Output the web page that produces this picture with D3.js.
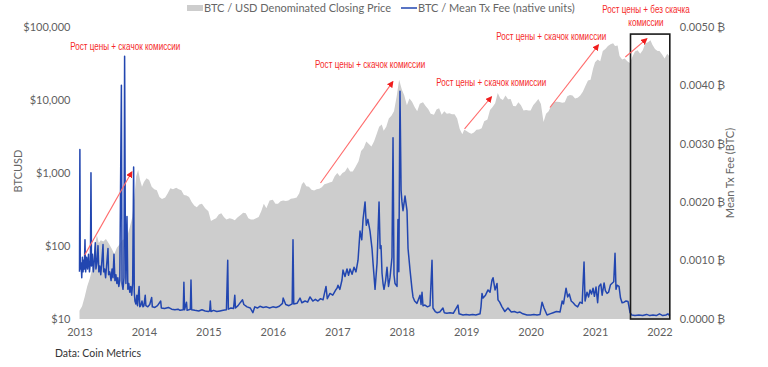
<!DOCTYPE html>
<html>
<head>
<meta charset="utf-8">
<script src="https://cdn.jsdelivr.net/npm/d3@7/dist/d3.min.js"></script>
<style>
  html, body { margin: 0; padding: 0; background: #fff; }
  svg { display: block; }
  text { font-family: Lato, "Open Sans", sans-serif; }
</style>
</head>
<body>
<svg id="chart" width="768" height="367"></svg>
<script>
// ---------- DATA ----------
const yearTicks = [2013, 2014, 2015, 2016, 2017, 2018, 2019, 2020, 2021, 2022];
const priceTicks = [10, 100, 1000, 10000, 100000];
const feeTicks = [0, 0.001, 0.002, 0.003, 0.004, 0.005];

// BTC / USD closing price: [decimal year, USD]
const priceSeries = [
  [2013.00,13],[2013.04,15],[2013.08,20],[2013.12,28],[2013.16,36],[2013.20,50],[2013.23,95],[2013.27,140],
  [2013.30,110],[2013.33,120],[2013.37,115],[2013.41,125],[2013.45,110],[2013.50,92],[2013.54,78],[2013.58,95],
  [2013.62,105],[2013.66,120],[2013.70,125],[2013.74,135],[2013.78,180],[2013.82,250],[2013.85,450],[2013.88,900],
  [2013.91,1100],[2013.94,800],[2013.97,650],[2014.00,750],[2014.04,850],[2014.08,800],[2014.12,650],[2014.16,600],
  [2014.20,580],[2014.24,470],[2014.28,440],[2014.33,460],[2014.37,530],[2014.41,620],[2014.45,600],[2014.50,630],
  [2014.54,600],[2014.58,580],[2014.62,500],[2014.66,490],[2014.70,470],[2014.74,400],[2014.78,360],[2014.82,340],
  [2014.86,370],[2014.90,380],[2014.95,330],[2015.00,300],[2015.04,220],[2015.08,230],[2015.12,240],[2015.16,270],
  [2015.20,280],[2015.24,250],[2015.28,230],[2015.33,240],[2015.37,235],[2015.41,225],[2015.45,245],[2015.50,265],
  [2015.54,285],[2015.58,280],[2015.62,240],[2015.66,230],[2015.70,230],[2015.74,240],[2015.78,250],[2015.82,300],
  [2015.86,380],[2015.90,330],[2015.95,420],[2016.00,430],[2016.04,380],[2016.08,380],[2016.12,410],[2016.16,420],
  [2016.20,415],[2016.24,420],[2016.28,445],[2016.33,450],[2016.37,460],[2016.41,530],[2016.45,700],[2016.48,750],
  [2016.52,660],[2016.56,650],[2016.60,590],[2016.64,575],[2016.68,600],[2016.72,610],[2016.76,640],[2016.80,700],
  [2016.84,720],[2016.88,740],[2016.92,760],[2016.96,900],[2017.00,1000],[2017.04,900],[2017.08,1000],[2017.12,1050],
  [2017.16,1200],[2017.20,1050],[2017.24,1050],[2017.28,1200],[2017.33,1450],[2017.37,2000],[2017.41,2200],[2017.45,2700],
  [2017.49,2500],[2017.53,2300],[2017.57,2700],[2017.61,3400],[2017.65,4300],[2017.69,4600],[2017.72,3800],[2017.76,4300],
  [2017.80,5600],[2017.84,6100],[2017.88,7000],[2017.92,11000],[2017.96,19000],[2018.00,14000],[2018.04,11500],[2018.08,8500],
  [2018.12,10500],[2018.16,9500],[2018.20,8000],[2018.24,7000],[2018.28,8900],[2018.33,9300],[2018.37,8300],[2018.41,7500],
  [2018.45,6500],[2018.50,6300],[2018.54,7400],[2018.58,7700],[2018.62,6300],[2018.66,7000],[2018.70,6500],[2018.74,6600],
  [2018.78,6400],[2018.82,6400],[2018.86,5600],[2018.90,4000],[2018.94,3400],[2018.97,3900],[2019.00,3800],[2019.04,3600],
  [2019.08,3450],[2019.12,3600],[2019.16,3900],[2019.20,3950],[2019.24,4100],[2019.28,5100],[2019.33,5400],[2019.37,7300],
  [2019.41,8000],[2019.45,9000],[2019.49,12500],[2019.53,10500],[2019.57,10000],[2019.61,11500],[2019.65,10200],[2019.69,10300],
  [2019.73,8300],[2019.77,8200],[2019.81,9300],[2019.85,8500],[2019.89,7200],[2019.93,7300],[2019.97,7200],[2020.00,7200],
  [2020.04,8500],[2020.08,9300],[2020.12,10300],[2020.16,8800],[2020.20,5000],[2020.24,6500],[2020.28,7000],[2020.33,8800],
  [2020.37,9500],[2020.41,9500],[2020.45,9400],[2020.49,9200],[2020.53,9300],[2020.57,11300],[2020.61,11700],[2020.65,11500],
  [2020.69,10500],[2020.73,10700],[2020.77,11500],[2020.81,13000],[2020.85,15500],[2020.89,18500],[2020.93,19000],[2020.97,27000],
  [2021.00,33000],[2021.04,36000],[2021.08,34000],[2021.12,47000],[2021.16,50000],[2021.20,55000],[2021.24,58000],[2021.28,60000],
  [2021.31,55000],[2021.35,56000],[2021.38,40000],[2021.42,36000],[2021.46,37000],[2021.50,34000],[2021.54,32000],[2021.58,39000],
  [2021.62,46000],[2021.66,48000],[2021.70,43000],[2021.74,48000],[2021.78,60000],[2021.82,62000],[2021.86,66000],[2021.89,57000],
  [2021.93,50000],[2021.97,47000],[2022.00,47000],[2022.04,42000],[2022.08,37000],[2022.12,43000],[2022.16,39000]
];

// BTC / mean transaction fee (BTC): [decimal year, fee]
const feeSeries = [
  [2013.000,0.00080],[2013.006,0.00290],[2013.012,0.00085],[2013.025,0.00095],[2013.035,0.00070],[2013.045,0.00105],
  [2013.055,0.00080],[2013.065,0.00100],[2013.075,0.00085],[2013.085,0.00135],[2013.095,0.00080],[2013.110,0.00105],
  [2013.125,0.00085],[2013.140,0.00110],[2013.155,0.00080],[2013.170,0.00100],[2013.178,0.00250],[2013.186,0.00090],
  [2013.200,0.00110],[2013.215,0.00080],[2013.230,0.00100],[2013.245,0.00130],[2013.255,0.00085],[2013.270,0.00095],
  [2013.287,0.00125],[2013.300,0.00080],[2013.315,0.00090],[2013.330,0.00075],[2013.345,0.00095],[2013.365,0.00127],
  [2013.375,0.00080],[2013.390,0.00085],[2013.405,0.00070],[2013.420,0.00090],[2013.442,0.00120],[2013.452,0.00075],
  [2013.470,0.00080],[2013.490,0.00065],[2013.505,0.00085],[2013.520,0.00070],[2013.535,0.00110],[2013.550,0.00065],
  [2013.565,0.00075],[2013.580,0.00060],[2013.595,0.00070],[2013.610,0.00055],[2013.625,0.00065],[2013.650,0.00400],
  [2013.660,0.00060],[2013.675,0.00050],[2013.690,0.00070],[2013.700,0.00450],[2013.710,0.00180],[2013.720,0.00060],
  [2013.737,0.00175],[2013.750,0.00050],[2013.765,0.00060],[2013.780,0.00045],[2013.795,0.00055],[2013.810,0.00040],
  [2013.825,0.00060],[2013.840,0.00260],[2013.850,0.00045],[2013.860,0.00030],[2013.875,0.00025],[2013.890,0.00040],
  [2013.900,0.00022],[2013.925,0.00055],[2013.935,0.00020],[2013.950,0.00022],[2013.970,0.00030],[2013.985,0.00020],
  [2014.000,0.00022],[2014.020,0.00040],[2014.030,0.00022],[2014.060,0.00020],[2014.090,0.00024],[2014.120,0.00036],
  [2014.130,0.00020],[2014.170,0.00019],[2014.210,0.00022],[2014.260,0.00030],[2014.270,0.00018],[2014.320,0.00017],
  [2014.380,0.00019],[2014.430,0.00016],[2014.480,0.00015],[2014.530,0.00016],[2014.560,0.00014],[2014.610,0.00015],
  [2014.620,0.00062],[2014.630,0.00015],[2014.660,0.00028],[2014.670,0.00014],[2014.720,0.00016],[2014.730,0.00066],
  [2014.740,0.00015],[2014.790,0.00014],[2014.850,0.00013],[2014.900,0.00015],[2014.950,0.00013],
  [2015.000,0.00012],[2015.020,0.00013],[2015.030,0.00030],[2015.040,0.00012],[2015.080,0.00014],[2015.130,0.00012],
  [2015.180,0.00013],[2015.230,0.00014],[2015.280,0.00015],[2015.300,0.00100],[2015.310,0.00016],[2015.350,0.00018],
  [2015.390,0.00017],[2015.410,0.00040],[2015.420,0.00018],[2015.460,0.00022],[2015.500,0.00028],[2015.530,0.00032],
  [2015.550,0.00024],[2015.600,0.00020],[2015.650,0.00018],[2015.690,0.00010],[2015.720,0.00020],[2015.760,0.00018],
  [2015.800,0.00021],[2015.850,0.00019],[2015.900,0.00020],[2015.950,0.00018],
  [2016.000,0.00020],[2016.050,0.00019],[2016.100,0.00021],[2016.150,0.00026],[2016.160,0.00035],[2016.200,0.00024],
  [2016.250,0.00022],[2016.300,0.00025],[2016.313,0.00135],[2016.325,0.00025],[2016.375,0.00026],[2016.422,0.00035],
  [2016.450,0.00027],[2016.500,0.00030],[2016.540,0.00028],[2016.577,0.00037],[2016.620,0.00030],[2016.660,0.00033],
  [2016.700,0.00030],[2016.740,0.00034],[2016.779,0.00032],[2016.825,0.00055],[2016.845,0.00034],[2016.887,0.00043],
  [2016.930,0.00040],[2016.970,0.00048],[2016.996,0.00052],[2017.011,0.00057],[2017.040,0.00050],[2017.073,0.00066],
  [2017.089,0.00083],[2017.120,0.00072],[2017.151,0.00085],[2017.175,0.00074],[2017.198,0.00085],[2017.230,0.00076],
  [2017.260,0.00088],[2017.290,0.00080],[2017.322,0.00100],[2017.353,0.00150],[2017.380,0.00135],[2017.400,0.00170],
  [2017.431,0.00200],[2017.450,0.00160],[2017.475,0.00170],[2017.508,0.00150],[2017.539,0.00120],[2017.555,0.00095],
  [2017.586,0.00050],[2017.617,0.00095],[2017.648,0.00200],[2017.665,0.00120],[2017.679,0.00125],[2017.694,0.00078],
  [2017.710,0.00060],[2017.725,0.00050],[2017.750,0.00065],[2017.772,0.00088],[2017.795,0.00055],[2017.818,0.00070],
  [2017.849,0.00105],[2017.865,0.00310],[2017.880,0.00075],[2017.896,0.00060],[2017.927,0.00055],[2017.942,0.00170],
  [2017.955,0.00080],[2017.973,0.00390],[2017.990,0.00220],[2018.004,0.00200],[2018.020,0.00185],[2018.051,0.00210],
  [2018.082,0.00185],[2018.098,0.00120],[2018.129,0.00083],[2018.160,0.00050],[2018.175,0.00037],[2018.200,0.00030],
  [2018.237,0.00026],[2018.284,0.00040],[2018.300,0.00024],[2018.315,0.00045],[2018.330,0.00022],[2018.361,0.00023],
  [2018.400,0.00020],[2018.439,0.00022],[2018.470,0.00100],[2018.485,0.00018],[2018.520,0.00012],[2018.547,0.00010],
  [2018.590,0.00011],[2018.640,0.00018],[2018.660,0.00010],[2018.700,0.00009],[2018.749,0.00010],[2018.800,0.00009],
  [2018.873,0.00023],[2018.890,0.00008],[2018.951,0.00006],[2019.000,0.00007],[2019.050,0.00006],[2019.100,0.00007],
  [2019.150,0.00006],[2019.215,0.00008],[2019.230,0.00020],[2019.246,0.00043],[2019.262,0.00035],[2019.300,0.00040],
  [2019.339,0.00049],[2019.370,0.00045],[2019.401,0.00066],[2019.417,0.00070],[2019.448,0.00049],[2019.479,0.00060],
  [2019.494,0.00032],[2019.520,0.00028],[2019.556,0.00020],[2019.600,0.00012],[2019.649,0.00018],[2019.700,0.00011],
  [2019.750,0.00012],[2019.789,0.00010],[2019.835,0.00011],[2019.880,0.00008],[2019.944,0.00006],[2020.000,0.00006],
  [2020.050,0.00007],[2020.100,0.00006],[2020.146,0.00007],[2020.178,0.00028],[2020.208,0.00018],[2020.255,0.00006],
  [2020.300,0.00008],[2020.350,0.00010],[2020.400,0.00012],[2020.456,0.00011],[2020.490,0.00030],[2020.510,0.00025],
  [2020.550,0.00052],[2020.575,0.00037],[2020.600,0.00042],[2020.630,0.00030],[2020.660,0.00027],[2020.690,0.00023],
  [2020.730,0.00020],[2020.767,0.00028],[2020.800,0.00026],[2020.829,0.00097],[2020.845,0.00030],[2020.875,0.00045],
  [2020.900,0.00037],[2020.922,0.00049],[2020.945,0.00042],[2020.969,0.00052],[2020.990,0.00038],[2021.015,0.00054],
  [2021.040,0.00027],[2021.060,0.00055],[2021.090,0.00059],[2021.110,0.00040],[2021.140,0.00061],[2021.160,0.00048],
  [2021.186,0.00043],[2021.210,0.00045],[2021.240,0.00058],[2021.290,0.00063],[2021.310,0.00112],[2021.325,0.00050],
  [2021.341,0.00057],[2021.372,0.00055],[2021.395,0.00035],[2021.419,0.00027],[2021.450,0.00028],[2021.480,0.00030],
  [2021.512,0.00029],[2021.543,0.00010],[2021.570,0.00006],[2021.620,0.00005],[2021.680,0.00006],[2021.740,0.00005],
  [2021.800,0.00007],[2021.850,0.00005],[2021.900,0.00006],[2021.950,0.00005],[2022.000,0.00008],[2022.050,0.00005],
  [2022.100,0.00006],[2022.130,0.00008],[2022.160,0.00005]
];

const seriesNames = ["BTC / USD Denominated Closing Price", "BTC / Mean Tx Fee (native units)"];
const highlightPeriod = [2021.55, 2022.16]; // boxed period (years)
const highlightTop = 80000;                 // boxed period top (USD)

// annotations: label lines, text anchor [year, price], arrow from [year, price] to [year, price]
const annotations = [
  { lines: ["Рост цены + скачок комиссии"], at: [2013.71, 49000], from: [2013.08, 75], to: [2013.81, 1030] },
  { lines: ["Рост цены + скачок комиссии"], at: [2017.51, 27400], from: [2016.74, 730], to: [2017.86, 17700] },
  { lines: ["Рост цены + скачок комиссии"], at: [2019.39, 15600], from: [2018.975, 4010], to: [2019.39, 11000] },
  { lines: ["Рост цены + скачок комиссии"], at: [2020.32, 66400], from: [2020.30, 7900], to: [2021.05, 56600] },
  { lines: ["Рост цены + без скачка", "комиссии"], at: [2021.79, 155000], from: [2021.47, 38800], to: [2021.80, 68600] }
];

// ---------- CHART ----------
const svg = d3.select("#chart");
const x = d3.scaleLinear().domain([2013, 2022]).range([79.5, 659.5]);
const yP = d3.scaleLog().domain([10, 100000]).range([319, 27]);
const yF = d3.scaleLinear().domain([0, 0.005]).range([318.5, 27]);

const axisColor = "#5f5f5f";

// price area
svg.append("path")
  .datum(priceSeries)
  .attr("fill", "#cdcdcd")
  .attr("d", d3.area().x(d => x(d[0])).y0(yP(10)).y1(d => yP(d[1])));

// fee line
svg.append("path")
  .datum(feeSeries)
  .attr("fill", "none")
  .attr("stroke", "#2246b0")
  .attr("stroke-width", 1.5)
  .attr("stroke-linejoin", "round")
  .attr("d", d3.line().x(d => x(d[0])).y(d => yF(d[1])));

// highlight box
svg.append("rect")
  .attr("x", x(highlightPeriod[0]))
  .attr("y", yP(highlightTop))
  .attr("width", x(highlightPeriod[1]) - x(highlightPeriod[0]))
  .attr("height", yP(10) - yP(highlightTop))
  .attr("fill", "none")
  .attr("stroke", "#1a1a1a")
  .attr("stroke-width", 1.6);

// axes
function styleAxis(g) {
  g.select(".domain").remove();
  g.selectAll("line").remove();
  g.selectAll("text").attr("fill", axisColor).style("font-size", "11px").style("font-family", "Lato, sans-serif");
}
svg.append("g")
  .attr("transform", `translate(0,${yP(10)})`)
  .call(d3.axisBottom(x).tickValues(yearTicks).tickFormat(d3.format("d")).tickSize(0).tickPadding(9))
  .call(styleAxis);

svg.append("g")
  .attr("transform", `translate(${x(2013)},0)`)
  .call(d3.axisLeft(yP).tickValues(priceTicks).tickFormat(d => "$" + d3.format(",")(d)).tickSize(0).tickPadding(9))
  .call(styleAxis);

svg.append("g")
  .attr("transform", `translate(${x(highlightPeriod[1])},0)`)
  .call(d3.axisRight(yF).tickValues(feeTicks).tickFormat(d => d3.format(".4f")(d) + " \u20BF").tickSize(0).tickPadding(10))
  .call(styleAxis);

// axis titles
svg.append("text")
  .attr("transform", "translate(22,171) rotate(-90)")
  .attr("text-anchor", "middle")
  .attr("fill", "#666").style("font-size", "11px")
  .text("BTCUSD");
svg.append("text")
  .attr("transform", "translate(734,173) rotate(-90)")
  .attr("text-anchor", "middle")
  .attr("fill", "#666").style("font-size", "11px")
  .text("Mean Tx Fee (BTC)");

// legend
const lg = svg.append("g");
lg.append("rect").attr("x", 187).attr("y", 5).attr("width", 16).attr("height", 6).attr("fill", "#cdcdcd");
lg.append("text").attr("x", 204).attr("y", 12).attr("fill", "#666").style("font-size", "11px").text(seriesNames[0]);
lg.append("line").attr("x1", 401).attr("x2", 417).attr("y1", 8).attr("y2", 8).attr("stroke", "#2246b0").attr("stroke-width", 1.5);
lg.append("text").attr("x", 418).attr("y", 12).attr("fill", "#666").style("font-size", "11px").text(seriesNames[1]);

// source
svg.append("text").attr("x", 55).attr("y", 357).attr("fill", "#333").style("font-size", "10.5px").text("Data: Coin Metrics");

// annotations
const red = "#f52a2a";
svg.append("defs").append("marker")
  .attr("id", "ah").attr("viewBox", "0 0 10 10").attr("refX", 8).attr("refY", 5)
  .attr("markerWidth", 6).attr("markerHeight", 6).attr("orient", "auto")
  .append("path").attr("d", "M0,0 L10,5 L0,10 z").attr("fill", "#f01e1e");

const narrow = 0.81; // condensed (Arial Narrow-like) width factor
const an = svg.append("g").selectAll("g").data(annotations).join("g");
an.append("line")
  .attr("x1", d => x(d.from[0])).attr("y1", d => yP(d.from[1]))
  .attr("x2", d => x(d.to[0])).attr("y2", d => yP(d.to[1]))
  .attr("stroke", "#ff6b6b").attr("stroke-width", 1.1)
  .attr("marker-end", "url(#ah)");
an.each(function(d) {
  const g = d3.select(this);
  d.lines.forEach((l, i) => {
    const t = g.append("text")
      .attr("x", x(d.at[0])).attr("y", yP(d.at[1]) + i * 13)
      .attr("text-anchor", "middle").attr("fill", red)
      .style("font-family", "'Liberation Sans', Arial, sans-serif")
      .style("font-size", "10px")
      .text(l);
    const w = t.node().getComputedTextLength();
    t.attr("textLength", w * narrow).attr("lengthAdjust", "spacingAndGlyphs");
  });
});
</script>
</body>
</html>
